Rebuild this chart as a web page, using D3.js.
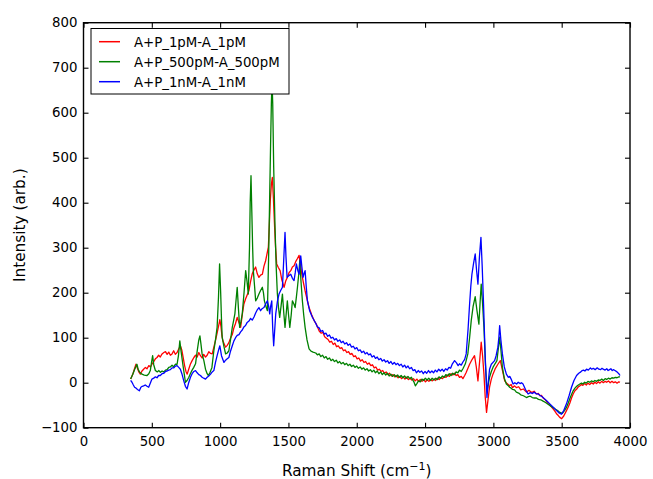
<!DOCTYPE html>
<html><head><meta charset="utf-8">
<script src="https://cdn.jsdelivr.net/npm/d3@7"></script>
<style>body{margin:0;background:#fff}svg{display:block}text{font-family:"DejaVu Sans",sans-serif}</style>
</head><body>
<svg id="c" width="653" height="479"></svg>
<script>
const seriesNames = ["A+P_1pM-A_1pM","A+P_500pM-A_500pM","A+P_1nM-A_1nM"];
const seriesColors = ["#ff0000","#008000","#0000ff"];
const xTicks = [0,500,1000,1500,2000,2500,3000,3500,4000];
const yTicks = [-100,0,100,200,300,400,500,600,700,800];

const red = [[345,8],[360,18],[372,30],[384,41],[395,32],[405,24],[416,19],[428,26],[440,30],[453,34],[465,31],[478,38],[490,35],[501,41],[514,47],[526,53],[538,56],[550,61],[562,57],[575,64],[588,67],[600,69],[612,63],[624,68],[636,61],[648,64],[660,71],[672,63],[685,67],[697,75],[709,82],[720,72],[730,55],[740,38],[750,25],[759,19],[770,30],[782,41],[795,49],[808,56],[820,61],[832,57],[844,67],[856,60],[868,55],[880,63],[893,57],[905,61],[917,69],[930,65],[942,64],[955,80],[967,95],[978,110],[990,128],[998,140],[1006,125],[1013,105],[1020,93],[1030,86],[1040,79],[1052,83],[1064,89],[1076,99],[1089,107],[1100,121],[1112,131],[1125,145],[1137,134],[1150,123],[1162,151],[1174,175],[1186,186],[1198,195],[1211,205],[1223,225],[1235,242],[1247,250],[1260,257],[1272,242],[1284,234],[1296,239],[1309,241],[1321,259],[1333,271],[1343,286],[1353,301],[1360,350],[1367,404],[1375,440],[1382,456],[1390,410],[1399,345],[1406,300],[1414,264],[1426,256],[1439,249],[1452,228],[1468,212],[1480,226],[1492,234],[1505,245],[1517,249],[1529,257],[1541,260],[1553,269],[1566,276],[1578,283],[1588,262],[1598,241],[1610,222],[1622,204],[1636,186],[1651,167],[1670,151],[1688,138],[1706,129],
[1725,115],[1740,110],[1752,112],[1765,102],[1778,99],[1790,96],[1802,90],[1815,92],[1828,85],[1840,88],[1852,80],[1865,82],[1878,76],[1890,78],[1903,71],[1915,73],[1928,67],[1940,69],[1952,63],[1965,65],[1978,58],[1990,60],[2003,53],[2015,55],[2028,48],[2040,51],[2053,45],[2065,47],[2078,41],[2090,44],[2103,38],[2115,40],[2128,33],[2140,35],[2153,28],[2165,30],[2178,25],[2190,27],[2203,21],[2215,24],[2228,18],[2240,21],[2253,15],[2265,18],[2278,13],[2290,16],[2303,11],[2315,14],[2328,9],[2340,13],[2353,8],[2365,12],[2378,7],[2390,10],[2403,6],[2415,9],[2428,4],[2440,8],[2453,3],[2465,7],[2478,3],[2490,7],[2503,2],[2515,6],[2528,3],[2540,7],[2553,4],[2565,8],[2578,5],[2590,10],[2603,7],[2615,11],[2628,9],[2640,14],[2653,12],[2665,17],[2678,14],[2690,20],[2703,17],[2715,21],[2728,16],[2740,18],[2752,12],[2765,14],[2777,9],[2790,16],
[2800,22],[2826,41],[2845,52],[2862,60],[2875,35],[2887,4],[2900,50],[2911,90],[2921,60],[2931,19],[2940,-30],[2950,-66],[2960,-40],[2972,-10],[2985,8],[2997,19],[3015,32],[3033,41],[3051,49],[3066,28],[3083,4],[3100,-2],[3119,-7],[3130,-4],[3140,-11],[3155,-7],[3168,-11],[3185,-9],[3200,-16],[3220,-14],[3242,-21],[3260,-17],[3280,-22],[3298,-19],[3315,-25],[3330,-24],[3340,-29],[3352,-28],[3364,-34],[3380,-38],[3400,-46],[3420,-52],[3437,-58],[3450,-63],[3462,-69],[3475,-73],[3486,-77],[3500,-80],[3515,-74],[3535,-62],[3548,-54],[3560,-45],[3572,-34],[3584,-25],[3597,-18],[3610,-14],[3622,-9],[3633,-7],[3645,-4],[3655,-6],[3668,-2],[3680,-5],[3692,-1],[3705,-4],[3718,0],[3731,-3],[3743,1],[3755,-2],[3768,2],[3780,-1],[3793,3],[3805,0],[3818,3],[3829,1],[3842,4],[3855,0],[3868,3],[3880,0],[3893,2],[3905,-1],[3918,2],[3927,1]];

const green = [[345,8],[360,18],[375,30],[391,41],[400,30],[410,24],[428,19],[445,17],[465,16],[478,20],[489,27],[498,45],[506,60],[514,40],[526,27],[540,24],[552,27],[563,23],[575,26],[588,24],[600,28],[612,29],[624,34],[636,35],[648,39],[660,35],[672,41],[685,41],[695,60],[705,93],[714,70],[727,41],[737,20],[746,1],[758,5],[771,12],[782,20],[795,28],[807,34],[820,42],[832,70],[844,95],[852,104],[860,85],[868,64],[881,49],[893,30],[905,20],[913,16],[925,22],[940,34],[954,71],[966,95],[978,123],[988,190],[996,264],[1004,200],[1010,140],[1015,101],[1028,80],[1040,64],[1052,66],[1064,71],[1076,95],[1089,123],[1100,140],[1108,153],[1117,185],[1125,212],[1134,165],[1143,123],[1152,135],[1162,153],[1175,200],[1187,249],[1197,225],[1206,197],[1215,300],[1220,400],[1226,460],[1232,380],[1238,300],[1243,249],[1252,215],[1260,182],[1272,188],[1284,197],[1296,205],[1309,212],[1317,200],[1324,182],[1335,170],[1346,160],[1355,280],[1363,419],[1370,540],[1375,620],[1380,670],[1385,620],[1392,480],[1402,345],[1410,260],[1419,197],[1428,165],[1436,145],[1446,170],[1456,197],[1466,155],[1475,123],[1484,155],[1492,182],[1501,150],[1510,123],[1520,150],[1529,182],[1540,175],[1549,167],[1558,190],[1566,212],[1575,240],[1583,271],[1592,225],[1602,182],[1612,150],[1622,123],[1636,95],[1651,75],[1665,70],[1680,68],
[1700,66],[1712,62],[1725,64],[1737,58],[1750,61],[1762,55],[1775,58],[1787,52],[1800,55],[1812,49],[1825,52],[1837,47],[1850,50],[1862,44],[1875,47],[1887,42],[1900,45],[1912,40],[1925,43],[1937,38],[1950,41],[1962,36],[1975,39],[1987,34],[2000,37],[2012,32],[2025,35],[2037,30],[2050,33],[2062,28],[2075,31],[2087,26],[2100,29],[2112,24],[2125,28],[2137,22],[2150,26],[2162,20],[2175,24],[2187,18],[2200,22],[2212,17],[2225,21],[2237,15],[2250,19],[2262,14],[2275,18],[2287,13],[2300,17],[2312,12],[2325,16],[2337,11],[2350,15],[2362,10],[2375,14],[2387,9],[2400,12],[2410,6],[2418,2],[2429,-7],[2440,-2],[2452,4],[2465,2],[2477,8],[2490,5],[2502,10],[2515,6],[2527,10],[2540,5],[2552,10],[2565,6],[2577,10],[2590,7],[2602,13],[2615,10],[2627,15],[2640,12],[2652,18],[2665,15],[2677,20],[2690,16],[2702,21],[2715,18],[2727,24],[2740,22],[2752,28],[2765,25],[2777,31],
[2795,42],[2813,64],[2826,100],[2838,138],[2852,170],[2867,191],[2880,160],[2894,130],[2903,180],[2911,219],[2920,180],[2931,123],[2942,40],[2953,-18],[2962,-5],[2972,12],[2985,25],[2997,34],[3012,42],[3026,49],[3036,75],[3046,101],[3056,70],[3066,34],[3080,10],[3095,-3],[3107,-6],[3119,-10],[3130,-12],[3140,-15],[3155,-16],[3168,-21],[3185,-23],[3200,-27],[3220,-29],[3242,-33],[3256,-31],[3270,-30],[3285,-33],[3300,-34],[3315,-34],[3330,-37],[3347,-38],[3364,-41],[3382,-44],[3400,-48],[3420,-52],[3440,-56],[3455,-59],[3470,-62],[3486,-66],[3505,-68],[3520,-62],[3535,-55],[3548,-45],[3560,-35],[3572,-26],[3584,-18],[3597,-12],[3610,-8],[3622,-5],[3633,-3],[3645,-1],[3655,-3],[3668,1],[3680,-1],[3692,3],[3705,1],[3718,4],[3731,2],[3743,5],[3755,3],[3768,6],[3780,5],[3793,8],[3805,5],[3818,9],[3829,7],[3842,10],[3855,8],[3868,11],[3880,10],[3893,12],[3905,11],[3918,13],[3927,13]];

const blue = [[345,5],[355,1],[365,-5],[374,-10],[385,-12],[395,-15],[409,-18],[420,-10],[430,-8],[440,-7],[452,-5],[465,-8],[477,-10],[488,-2],[501,8],[514,10],[526,13],[538,11],[550,16],[562,16],[575,20],[588,21],[600,25],[612,26],[624,28],[636,29],[648,33],[661,33],[673,37],[685,38],[697,34],[709,30],[720,20],[734,4],[746,-8],[758,-14],[770,0],[783,12],[795,20],[808,25],[820,27],[832,22],[844,18],[856,16],[868,12],[880,10],[893,8],[905,12],[917,15],[930,19],[942,24],[954,27],[966,45],[978,60],[991,75],[998,82],[1010,60],[1028,45],[1040,50],[1052,53],[1064,56],[1076,70],[1089,82],[1101,93],[1113,100],[1125,105],[1138,107],[1150,113],[1162,117],[1174,124],[1186,127],[1198,134],[1211,137],[1223,143],[1235,139],[1248,146],[1260,155],[1272,162],[1284,167],[1296,160],[1309,165],[1321,167],[1333,175],[1346,182],[1355,170],[1363,153],[1370,170],[1378,182],[1385,120],[1392,82],[1399,115],[1407,153],[1419,180],[1431,197],[1443,205],[1456,212],[1465,270],[1475,334],[1482,280],[1490,234],[1503,238],[1517,241],[1529,232],[1541,227],[1550,245],[1558,264],[1568,250],[1578,241],[1584,262],[1590,282],[1598,258],[1607,234],[1614,242],[1622,249],[1630,215],[1639,182],[1655,160],[1676,145],
[1700,132],[1712,124],[1725,122],[1737,114],[1750,116],[1762,108],[1775,110],[1787,103],[1800,106],[1812,99],[1825,101],[1837,95],[1850,98],[1862,92],[1875,95],[1887,89],[1900,92],[1912,86],[1925,89],[1937,83],[1950,86],[1962,79],[1975,81],[1987,75],[2000,78],[2012,71],[2025,73],[2037,67],[2050,70],[2062,64],[2075,67],[2087,62],[2100,64],[2112,57],[2125,60],[2137,54],[2150,57],[2162,51],[2175,54],[2187,48],[2200,51],[2212,46],[2225,49],[2237,43],[2250,47],[2262,41],[2275,45],[2287,40],[2300,43],[2312,38],[2325,41],[2337,35],[2350,39],[2362,33],[2375,37],[2387,31],[2400,34],[2412,27],[2425,29],[2437,22],[2450,27],[2462,23],[2475,26],[2487,20],[2500,25],[2512,21],[2525,27],[2537,22],[2550,26],[2562,22],[2575,28],[2587,24],[2600,30],[2612,26],[2625,30],[2637,25],[2650,31],[2662,28],[2675,34],[2687,32],[2700,42],[2716,49],[2730,44],[2742,38],[2752,42],[2765,39],[2777,46],[2790,52],
[2801,64],[2815,120],[2826,175],[2835,215],[2843,241],[2855,265],[2867,286],[2877,250],[2887,219],[2898,280],[2909,323],[2918,260],[2928,175],[2940,60],[2953,-33],[2962,0],[2972,30],[2985,41],[3009,49],[3020,60],[3033,79],[3040,100],[3046,127],[3055,95],[3066,64],[3080,35],[3095,19],[3110,12],[3120,14],[3130,8],[3144,-3],[3157,0],[3170,-3],[3182,1],[3195,-2],[3206,0],[3217,-3],[3235,-15],[3254,-25],[3270,-22],[3285,-24],[3300,-21],[3315,-25],[3328,-25],[3340,-28],[3352,-30],[3364,-33],[3378,-37],[3390,-40],[3413,-47],[3440,-55],[3462,-62],[3480,-67],[3499,-70],[3515,-62],[3535,-47],[3555,-28],[3572,-10],[3590,5],[3609,16],[3625,21],[3640,24],[3650,27],[3660,28],[3670,26],[3682,30],[3695,28],[3710,33],[3720,30],[3731,32],[3745,29],[3760,33],[3772,30],[3785,29],[3795,32],[3804,30],[3818,28],[3830,31],[3840,27],[3850,29],[3860,31],[3870,27],[3878,29],[3890,27],[3905,24],[3918,20],[3927,16]];

const allSeries = [red, green, blue];

const svg = d3.select("#c");
const L = 83.5, R = 630, T = 22.7, B = 427.7;
const x = d3.scaleLinear().domain([0,4000]).range([L,R]);
const y = d3.scaleLinear().domain([-100,800]).range([B,T]);

const line = d3.line().x(d => x(d[0])).y(d => y(d[1]));
const g = svg.append("g");
allSeries.forEach((s,i) => {
  g.append("path").attr("d", line(s)).attr("fill","none")
   .attr("stroke", seriesColors[i]).attr("stroke-width",1.3).attr("stroke-linejoin","round");
});

const tl = 5;
const fmt = v => v < 0 ? "\u2212" + Math.abs(v) : String(v);
const xb = d3.axisBottom(x).tickValues(xTicks).tickSize(-tl).tickPadding(9).tickFormat(fmt);
const ax = svg.append("g").attr("transform",`translate(0,${B})`).call(xb);
const xt = d3.axisTop(x).tickValues(xTicks).tickSize(-tl).tickFormat("");
const axt = svg.append("g").attr("transform",`translate(0,${T})`).call(xt);
const yl = d3.axisLeft(y).tickValues(yTicks).tickSize(-tl).tickPadding(6).tickFormat(fmt);
const ayl = svg.append("g").attr("transform",`translate(${L},0)`).call(yl);
const yr = d3.axisRight(y).tickValues(yTicks).tickSize(-tl).tickFormat("");
const ayr = svg.append("g").attr("transform",`translate(${R},0)`).call(yr);
[ax,axt,ayl,ayr].forEach(a => {
  a.select(".domain").remove();
  a.selectAll(".tick line").attr("stroke","#000").attr("stroke-width",1.1);
  a.selectAll("text").attr("font-size","13.3px").attr("fill","#000").attr("font-family","DejaVu Sans");
});
svg.append("rect").attr("x",L).attr("y",T).attr("width",R-L).attr("height",B-T)
  .attr("fill","none").attr("stroke","#000").attr("stroke-width",1.4);

const xtitle = svg.append("text").attr("x",(L+R)/2).attr("y",476).attr("text-anchor","middle")
  .attr("font-size","15.3px");
xtitle.append("tspan").text("Raman Shift (cm");
xtitle.append("tspan").text("\u22121").attr("font-size","11px").attr("dy",-6);
xtitle.append("tspan").text(")").attr("dy",6);
svg.append("text").attr("transform",`translate(25,${(T+B)/2}) rotate(-90)`).attr("text-anchor","middle")
  .attr("font-size","15.3px").text("Intensity (arb.)");

const lg = svg.append("g");
lg.append("rect").attr("x",91).attr("y",28.5).attr("width",198).attr("height",65.5)
  .attr("fill","#fff").attr("stroke","#000").attr("stroke-width",1);
seriesNames.forEach((n,i) => {
  const yy = 41.7 + i*20;
  lg.append("line").attr("x1",99).attr("x2",120).attr("y1",yy).attr("y2",yy)
    .attr("stroke",seriesColors[i]).attr("stroke-width",1.5);
  lg.append("text").attr("x",134).attr("y",yy+4.8).attr("font-size","13.3px").text(n);
});
</script>
</body></html>
